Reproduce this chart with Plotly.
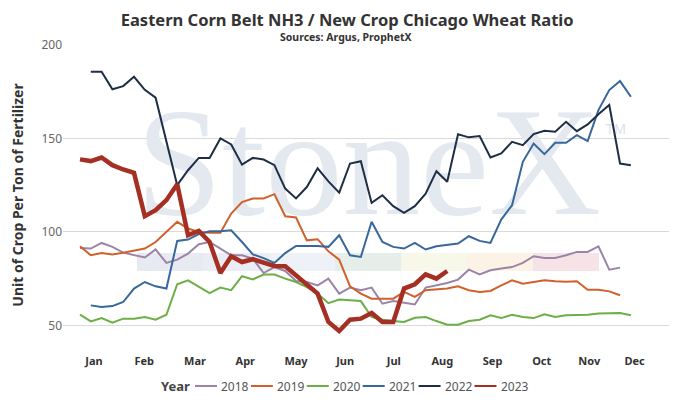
import plotly.graph_objects as go

# weekly ratio values (week index 0..51)
y2018 = [91.4, 91.1, 94.1, 92.0, 88.9, 87.5, 86.3, 90.6, 83.4, 85.2,
         88.4, 93.4, 94.6, 91.1, 87.5, 87.5, 85.7, 78.0, 81.2, 79.1,
         73.7, 73.2, 71.4, 75.0, 67.0, 70.2, 68.8, 70.2, 61.6, 63.0,
         61.9, 61.2, 70.2, 71.4, 72.7, 74.5, 79.8, 77.3, 79.5, 80.4,
         81.2, 83.4, 87.0, 86.1, 86.1, 87.5, 89.3, 89.3, 92.3, 79.8, 80.9]
y2019 = [92.3, 87.5, 88.7, 87.9, 88.9, 89.8, 91.1, 94.6, 100.0, 105.4,
         101.8, 100.0, 99.6, 99.6, 109.8, 116.0, 117.9, 117.9, 120.2, 108.4,
         107.7, 95.5, 96.1, 89.6, 85.2, 70.9, 67.0, 64.3, 64.3, 64.3,
         67.9, 65.2, 68.8, 69.1, 69.7, 70.9, 68.8, 67.9, 68.4, 71.4,
         74.1, 72.3, 73.2, 74.1, 73.6, 73.4, 73.6, 69.1, 69.1, 68.2, 66.1]
y2020 = [55.7, 52.1, 53.9, 51.4, 53.6, 53.6, 54.5, 53.0, 55.7, 72.0,
         74.1, 70.9, 67.3, 70.2, 68.8, 76.3, 74.6, 77.2, 77.2, 75.0,
         73.2, 70.5, 67.0, 61.9, 63.8, 63.4, 63.0, 54.5, 53.0, 52.3,
         51.8, 54.1, 54.5, 52.3, 50.4, 50.4, 52.3, 53.0, 55.4, 53.9,
         55.7, 54.5, 53.9, 55.9, 54.5, 55.4, 55.4, 55.7, 56.3, 56.6, 56.6, 55.4]
y2021 = [None, 60.7, 59.8, 60.3, 62.5, 69.7, 73.2, 70.9, 69.7, 95.2,
         95.9, 98.8, 100.4, 100.4, 100.9, 94.6, 88.0, 86.0, 83.4, 88.7,
         92.5, 92.5, 92.5, 92.0, 98.2, 87.5, 86.6, 105.4, 94.6, 92.0,
         91.1, 94.1, 90.6, 92.3, 92.9, 93.8, 97.7, 95.2, 94.1, 106.6,
         114.3, 137.5, 147.3, 141.6, 147.7, 147.7, 151.8, 148.6, 165.2, 175.9, 180.7, 172.3]
y2022 = [None, 185.7, 185.7, 176.3, 178.0, 183.0, 176.0, 171.8, 148.0, 125.0,
         133.0, 139.6, 139.6, 150.0, 146.8, 136.0, 139.6, 138.7, 135.7, 123.2,
         117.9, 124.0, 134.0, 127.0, 121.0, 136.6, 137.8, 115.5, 119.6, 113.8,
         110.2, 113.8, 120.5, 132.5, 126.8, 152.2, 150.6, 151.3, 139.8, 142.0,
         148.2, 146.4, 152.3, 154.1, 153.6, 158.9, 153.9, 157.5, 163.0, 167.9, 136.6, 135.7]
y2023 = [138.8, 137.9, 139.8, 135.7, 133.4, 131.6, 108.4, 111.6, 117.0, 125.5,
         98.2, 100.5, 94.6, 78.0, 87.0, 83.9, 85.4, 83.4, 81.8, 81.6,
         76.8, 72.3, 67.0, 51.8, 47.0, 53.0, 53.6, 56.6, 51.8, 51.8,
         69.7, 72.0, 77.3, 75.0, 79.1]

years = ['2018', '2019', '2020', '2021', '2022', '2023']
series = [y2018, y2019, y2020, y2021, y2022, y2023]
colors = ['#9c84a6', '#d0612c', '#6cae47', '#38679c', '#1f2e47', '#a52f22']
widths = [2, 2, 2, 2, 2, 4.5]

month_labels = ['Jan', 'Feb', 'Mar', 'Apr', 'May', 'Jun',
                'Jul', 'Aug', 'Sep', 'Oct', 'Nov', 'Dec']
month_pos = [1.3, 5.95, 10.65, 15.3, 20.0, 24.55, 29.05, 33.55, 38.2, 42.75, 47.15, 51.35]

# faint StoneX logo band colours
band_colors = ['#e7eaf0', '#eaedf4', '#eef2f8', '#e5eee8', '#f7f8ea', '#fcf3e6', '#f5e3e8']

# plot area is 609 x 300 px
PW, PH = 609, 300

fig = go.Figure()

# watermark first so the lines sit on top of it
fig.add_trace(go.Scatter(x=[26.7], y=[130.5], mode='text', text=['StoneX'],
                         textposition='middle center', hoverinfo='skip', showlegend=False,
                         textfont=dict(family='Liberation Serif', size=155, color='#e4e8ef')))
fig.add_trace(go.Scatter(x=[49.6], y=[154.5], mode='text', text=['TM'],
                         textposition='middle center', hoverinfo='skip', showlegend=False,
                         textfont=dict(family='Liberation Sans', size=14, color='#dde2ea')))

for name, vals, col, w in zip(years, series, colors, widths):
    fig.add_trace(go.Scatter(x=list(range(len(vals))), y=vals, name=name,
                             mode='lines', line=dict(color=col, width=w),
                             showlegend=False))

for i, c in enumerate(band_colors):
    x0 = (74 + i * 66) / PW
    fig.add_shape(type='rect', xref='paper', yref='paper', x0=x0, x1=x0 + 66 / PW,
                  y0=0.247, y1=0.307, fillcolor=c, line_width=0, layer='below')

fig.add_annotation(text='<b>Sources: Argus, ProphetX</b>', xref='paper', yref='paper',
                   x=0.465, y=1.026, xanchor='center', yanchor='middle', showarrow=False,
                   font=dict(family='Noto Sans', size=10.5, color='#333333'))

# legend row (Year + one short line and label per series)
leg_y = -41 / PH
fig.add_annotation(text='<b>Year</b>', xref='paper', yref='paper', x=112.5 / PW, y=leg_y,
                   xanchor='center', yanchor='middle', showarrow=False,
                   font=dict(family='Noto Sans', size=13, color='#444444'))
for i, (name, col) in enumerate(zip(years, colors)):
    lx = 132 + i * 55.9
    fig.add_shape(type='line', xref='paper', yref='paper', x0=lx / PW, x1=(lx + 22) / PW,
                  y0=leg_y, y1=leg_y, line=dict(color=col, width=2))
    fig.add_annotation(text=name, xref='paper', yref='paper', x=(lx + 24) / PW, y=leg_y,
                       xanchor='left', yanchor='middle', showarrow=False,
                       font=dict(family='Noto Sans', size=12, color='#555555'))

fig.update_layout(
    width=669, height=397,
    margin=dict(l=55, r=5, t=37, b=60),
    paper_bgcolor='white', plot_bgcolor='white',
    font=dict(family='Noto Sans', color='#555555'),
    title=dict(text='<b>Eastern Corn Belt NH3 / New Crop Chicago Wheat Ratio</b>',
               x=0.507, xanchor='center', y=0.968, yanchor='middle',
               font=dict(family='Noto Sans', size=16.5, color='#333333')),
    xaxis=dict(range=[-1.574, 54.81], tickvals=month_pos, ticktext=month_labels,
               showgrid=False, zeroline=False, showline=False, ticks='',
               tickfont=dict(family='Noto Sans', size=11, color='#333333', weight='bold'),
               ticklabelstandoff=8),
    yaxis=dict(range=[39.5, 200], tickvals=[50, 100, 150, 200], showgrid=True,
               gridcolor='#d9d9d9', zeroline=False, showline=False,
               tickfont=dict(size=12, color='#666666'),
               title=dict(text='<b>Unit of Crop Per Ton of Fertilizer</b>', standoff=16,
                          font=dict(size=14, color='#333333'))),
)

fig.write_html("out.html")
